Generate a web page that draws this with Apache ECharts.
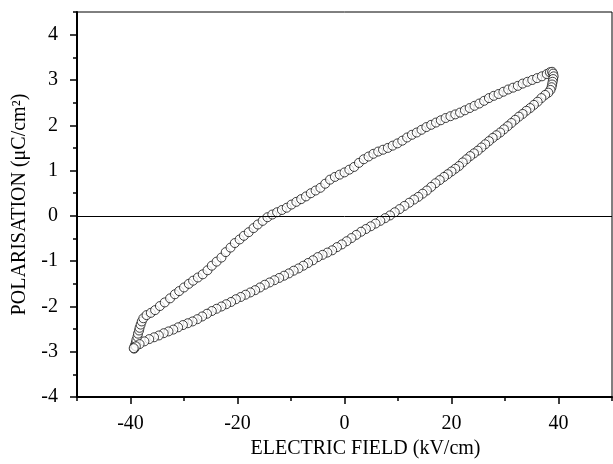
<!DOCTYPE html>
<html>
<head>
<meta charset="utf-8">
<script src="https://cdn.jsdelivr.net/npm/echarts@6/dist/echarts.min.js"></script>
<style>
  html, body { margin: 0; padding: 0; background: #fff; }
  #main { width: 613px; height: 464px; }
</style>
</head>
<body>
<div id="main"></div>
<script>
// upper branch of the loop, from the negative tip up to the positive tip
var upperBranch = [
  [-39.3,-2.93],[-39.2,-2.86],[-39.0,-2.80],[-38.9,-2.74],[-38.7,-2.67],[-38.6,-2.60],[-38.4,-2.53],
  [-38.3,-2.47],[-38.1,-2.40],[-37.9,-2.33],[-37.6,-2.26],[-37.0,-2.19],[-36.2,-2.14],[-35.4,-2.08],
  [-34.5,-1.99],[-33.6,-1.91],[-32.6,-1.82],[-31.7,-1.73],[-30.9,-1.66],[-30.0,-1.58],[-29.1,-1.50],
  [-28.3,-1.43],[-27.4,-1.36],[-26.5,-1.29],[-25.6,-1.20],[-24.8,-1.10],[-23.9,-1.01],[-23.0,-0.92],
  [-22.2,-0.80],[-21.3,-0.70],[-20.5,-0.60],[-19.6,-0.52],[-18.8,-0.44],[-17.9,-0.36],[-17.0,-0.27],
  [-16.2,-0.19],[-15.3,-0.11],[-14.4,-0.03],[-13.5,0.03],[-12.6,0.08],[-11.7,0.13],[-10.8,0.18],
  [-9.9,0.25],[-9.0,0.31],[-8.1,0.37],[-7.2,0.43],[-6.3,0.50],[-5.4,0.56],[-4.5,0.62],[-3.6,0.71],
  [-2.7,0.80],[-1.8,0.86],[-0.9,0.91],[0.0,0.96],[0.9,1.02],[1.8,1.08],[2.7,1.17],[3.6,1.25],
  [4.5,1.31],[5.4,1.37],[6.3,1.42],[7.2,1.46],[8.1,1.50],[9.0,1.55],[9.9,1.60],[10.8,1.66],
  [11.7,1.73],[12.6,1.79],[13.5,1.84],[14.4,1.90],[15.3,1.96],[16.2,2.01],[17.1,2.06],[18.0,2.11],
  [18.9,2.16],[19.8,2.20],[20.7,2.24],[21.6,2.28],[22.5,2.33],[23.4,2.38],[24.3,2.43],[25.2,2.48],
  [26.1,2.54],[27.0,2.60],[27.9,2.65],[28.8,2.69],[29.7,2.74],[30.6,2.79],[31.5,2.83],[32.4,2.87],
  [33.3,2.92],[34.2,2.96],[35.1,3.00],[36.0,3.04],[36.9,3.08],[37.8,3.13],[38.4,3.17],[38.8,3.18]
];

// lower branch, from the positive tip back down to the negative tip
var lowerBranch = [
  [39.0,3.14],[39.1,3.08],[39.0,3.02],[38.9,2.96],[38.8,2.90],[38.7,2.84],[38.5,2.78],[38.1,2.72],
  [37.5,2.67],[36.8,2.60],[36.1,2.52],[35.4,2.45],[34.7,2.38],[34.0,2.32],[33.3,2.25],[32.6,2.19],
  [31.9,2.12],[31.2,2.05],[30.5,1.98],[29.8,1.91],[29.1,1.84],[28.4,1.78],[27.7,1.72],[27.0,1.65],
  [26.3,1.58],[25.6,1.51],[24.9,1.44],[24.2,1.38],[23.5,1.32],[22.8,1.25],[22.1,1.18],[21.4,1.10],
  [20.7,1.04],[20.0,0.98],[19.3,0.92],[18.6,0.86],[17.8,0.79],[17.0,0.72],[16.2,0.64],[15.4,0.56],
  [14.6,0.49],[13.8,0.42],[13.0,0.36],[12.1,0.29],[11.2,0.22],[10.3,0.15],[9.4,0.08],[8.5,0.01],
  [7.6,-0.05],[6.7,-0.11],[5.8,-0.17],[4.9,-0.23],[4.0,-0.29],[3.1,-0.35],[2.2,-0.42],[1.3,-0.49],
  [0.4,-0.56],[-0.5,-0.63],[-1.4,-0.69],[-2.3,-0.76],[-3.2,-0.81],[-4.1,-0.86],[-5.0,-0.91],
  [-5.9,-0.98],[-6.8,-1.04],[-7.7,-1.10],[-8.6,-1.16],[-9.5,-1.21],[-10.4,-1.27],[-11.3,-1.32],
  [-12.2,-1.37],[-13.1,-1.42],[-14.0,-1.47],[-14.9,-1.52],[-15.8,-1.58],[-16.7,-1.64],[-17.6,-1.69],
  [-18.5,-1.74],[-19.4,-1.79],[-20.3,-1.84],[-21.2,-1.90],[-22.1,-1.95],[-23.0,-2.00],[-23.9,-2.05],
  [-24.8,-2.10],[-25.7,-2.16],[-26.6,-2.22],[-27.5,-2.28],[-28.4,-2.33],[-29.3,-2.37],[-30.2,-2.41],
  [-31.1,-2.46],[-32.0,-2.51],[-32.9,-2.55],[-33.8,-2.59],[-34.7,-2.64],[-35.6,-2.68],[-36.5,-2.72],
  [-37.4,-2.77],[-38.3,-2.83],[-39.0,-2.88],[-39.4,-2.92]
];

var xMajorTicks = [-40, -20, 0, 20, 40];
var xMinorTicks = [-50, -30, -10, 10, 30, 50];
var yMajorTicks = [-4, -3, -2, -1, 0, 1, 2, 3, 4];
var yMinorTicks = [-3.5, -2.5, -1.5, -0.5, 0.5, 1.5, 2.5, 3.5, 4.5];

var font = 'Liberation Serif';
var chart = echarts.init(document.getElementById('main'));

var pointStyle = {
  color: '#fff',
  borderColor: '#111',
  borderWidth: 1
};

chart.setOption({
  animation: false,
  grid: {
    left: 77,
    right: 1,
    top: 12,
    bottom: 64,
    show: true,
    borderColor: '#000',
    borderWidth: 1
  },
  xAxis: [{
    type: 'value',
    min: -50,
    max: 50,
    name: 'ELECTRIC FIELD (kV/cm)',
    nameLocation: 'middle',
    nameGap: 33,
    nameTextStyle: {
      fontFamily: font,
      fontSize: 20,
      color: '#000',
      padding: [0, 0, 0, 42]
    },
    axisLine: { onZero: false, lineStyle: { color: '#000', width: 2 } },
    axisTick: { customValues: xMajorTicks, length: 7, lineStyle: { color: '#000', width: 1.5 } },
    axisLabel: { customValues: xMajorTicks, margin: 17, fontFamily: font, fontSize: 20, color: '#000' },
    splitLine: { show: false }
  }, {
    type: 'value',
    min: -50,
    max: 50,
    position: 'bottom',
    axisLine: { show: false, onZero: false },
    axisTick: { customValues: xMinorTicks, length: 4, lineStyle: { color: '#000', width: 1.5 } },
    axisLabel: { show: false },
    splitLine: { show: false }
  }],
  yAxis: [{
    type: 'value',
    min: -4,
    max: 4.5,
    name: 'POLARISATION (μC/cm²)',
    nameLocation: 'middle',
    nameGap: 47,
    nameTextStyle: {
      fontFamily: font,
      fontSize: 20,
      color: '#000'
    },
    axisLine: { onZero: false, lineStyle: { color: '#000', width: 2 } },
    axisTick: { customValues: yMajorTicks, length: 7, lineStyle: { color: '#000', width: 1.5 } },
    axisLabel: { customValues: yMajorTicks, margin: 19, fontFamily: font, fontSize: 20, color: '#000' },
    splitLine: { show: false }
  }, {
    type: 'value',
    min: -4,
    max: 4.5,
    position: 'left',
    axisLine: { show: false, onZero: false },
    axisTick: { customValues: yMinorTicks, length: 4, lineStyle: { color: '#000', width: 1.5 } },
    axisLabel: { show: false },
    splitLine: { show: false }
  }],
  series: [{
    type: 'scatter',
    data: upperBranch,
    symbol: 'circle',
    symbolSize: 9,
    itemStyle: pointStyle,
    markLine: {
      silent: true,
      symbol: 'none',
      label: { show: false },
      lineStyle: { color: '#000', width: 1, type: 'solid' },
      data: [{ yAxis: 0 }]
    }
  }, {
    type: 'scatter',
    data: lowerBranch,
    symbol: 'circle',
    symbolSize: 9,
    itemStyle: pointStyle
  }]
});
</script>
</body>
</html>
